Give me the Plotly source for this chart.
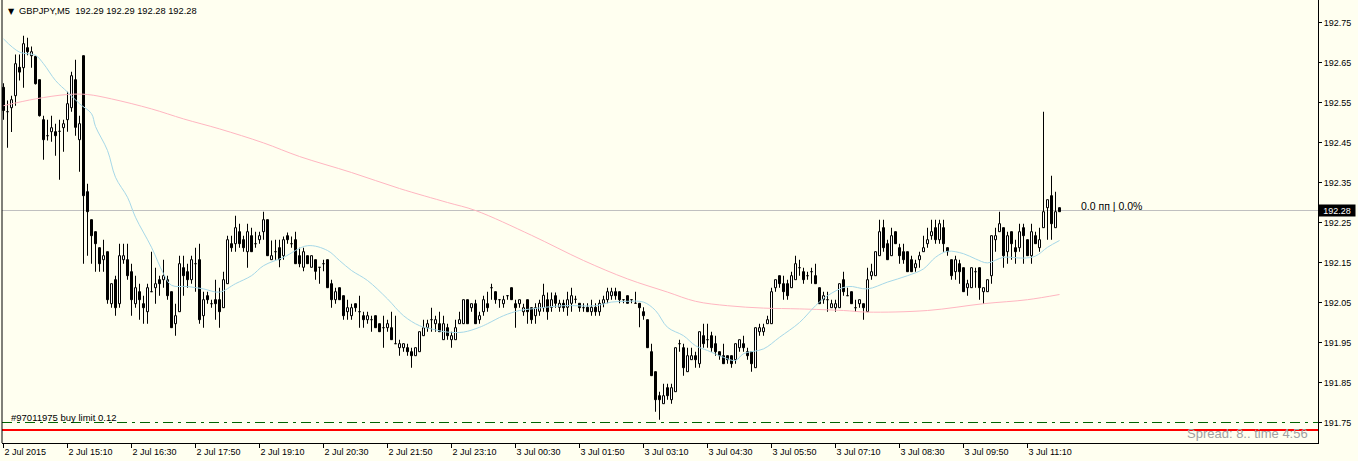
import plotly.graph_objects as go

# ---------------- data ----------------
opens = [192.588,192.527,192.537,192.567,192.638,192.637,192.687,192.667,192.665,192.607,
192.507,192.467,192.477,192.477,192.478,192.487,192.507,192.537,192.607,192.457,
192.667,192.327,192.257,192.227,192.187,192.157,192.177,192.047,192.107,192.047,
192.157,192.157,192.127,192.047,192.077,192.047,192.027,192.077,192.087,192.107,
192.107,192.107,192.077,191.997,192.027,192.137,192.127,192.107,192.147,192.157,
192.017,192.067,192.047,192.057,192.057,192.037,192.097,192.197,192.197,192.227,
192.207,192.177,192.217,192.197,192.207,192.227,192.257,192.157,192.177,192.187,
192.167,192.217,192.197,192.207,192.167,192.138,192.167,192.138,192.157,192.138,
192.147,192.157,192.097,192.057,192.087,192.067,192.027,192.017,192.047,192.027,
192.017,192.007,192.007,192.017,191.997,191.987,191.987,191.987,191.947,191.937,
191.937,191.937,191.927,191.917,191.927,191.967,191.987,192.007,191.997,191.997,
191.957,191.987,191.957,191.957,191.997,191.997,192.057,192.037,192.047,192.007,
192.027,192.047,192.087,192.077,192.057,192.047,192.067,192.087,192.047,192.047,
192.027,192.057,192.037,192.017,192.028,192.037,192.057,192.038,192.067,192.038,
192.048,192.038,192.048,192.058,192.048,192.037,192.038,192.027,192.038,192.027,
192.048,192.057,192.067,192.077,192.077,192.057,192.067,192.057,192.048,192.048,
192.027,192.007,191.927,191.877,191.817,191.797,191.837,191.807,191.827,191.947,
191.937,191.877,191.907,191.917,191.897,191.967,191.957,191.967,191.947,191.927,
191.917,191.917,191.917,191.907,191.937,191.947,191.927,191.927,191.887,191.977,
191.977,191.997,191.997,192.087,192.117,192.097,192.097,192.087,192.107,192.137,
192.127,192.117,192.127,192.117,192.087,192.057,192.057,192.037,192.037,192.037,
192.107,192.067,192.077,192.037,192.047,192.047,192.027,192.117,192.117,192.167,
192.237,192.197,192.167,192.227,192.187,192.177,192.177,192.157,192.137,192.157,
192.177,192.197,192.217,192.237,192.207,192.237,192.187,192.157,192.127,192.147,
192.137,192.087,192.087,192.127,192.137,192.077,192.077,192.117,192.207,192.227,
192.237,192.177,192.227,192.187,192.187,192.237,192.207,192.167,192.217,192.187,
192.237,192.287,192.317,192.237,192.287]
highs = [192.598,192.555,192.567,192.670,192.670,192.717,192.712,192.690,192.667,192.607,
192.517,192.507,192.517,192.497,192.507,192.507,192.577,192.627,192.657,192.517,
192.667,192.347,192.257,192.227,192.187,192.207,192.177,192.097,192.117,192.197,
192.197,192.197,192.147,192.117,192.097,192.067,192.097,192.177,192.137,192.117,
192.157,192.117,192.077,192.047,192.167,192.167,192.147,192.167,192.187,192.197,
192.077,192.077,192.057,192.107,192.087,192.127,192.217,192.217,192.267,192.247,
192.217,192.247,192.237,192.227,192.227,192.277,192.257,192.205,192.207,192.207,
192.215,192.225,192.215,192.227,192.187,192.187,192.167,192.167,192.157,192.138,
192.157,192.157,192.107,192.087,192.087,192.067,192.057,192.047,192.047,192.067,
192.027,192.027,192.017,192.017,191.997,192.017,192.007,192.027,192.017,191.957,
191.947,191.947,191.937,191.937,191.977,192.007,192.007,192.037,192.017,192.027,
192.017,191.997,191.977,192.007,192.027,192.057,192.057,192.047,192.057,192.027,
192.067,192.077,192.097,192.077,192.057,192.067,192.067,192.087,192.057,192.057,
192.047,192.057,192.037,192.048,192.057,192.097,192.075,192.075,192.075,192.057,
192.057,192.077,192.087,192.067,192.048,192.048,192.048,192.057,192.048,192.057,
192.067,192.087,192.087,192.087,192.077,192.057,192.067,192.057,192.077,192.048,
192.038,192.007,191.947,191.877,191.827,191.847,191.847,191.847,191.937,191.957,
191.947,191.937,191.937,191.927,191.977,191.997,191.997,191.977,191.967,191.927,
191.947,191.917,191.917,191.947,191.957,191.967,191.937,191.927,191.987,191.997,
191.997,192.017,192.087,192.107,192.117,192.117,192.107,192.127,192.167,192.157,
192.137,192.127,192.137,192.147,192.087,192.077,192.077,192.057,192.057,192.097,
192.127,192.087,192.077,192.057,192.057,192.047,192.137,192.147,192.177,192.257,
192.257,192.207,192.237,192.227,192.197,192.197,192.177,192.167,192.157,192.177,
192.217,192.237,192.257,192.257,192.257,192.257,192.187,192.157,192.167,192.157,
192.137,192.107,192.137,192.137,192.137,192.087,192.107,192.217,192.237,192.277,
192.237,192.227,192.227,192.207,192.247,192.247,192.207,192.247,192.227,192.237,
192.527,192.307,192.367,192.327,192.287]
lows = [192.507,192.437,192.476,192.542,192.605,192.587,192.668,192.637,192.595,192.515,
192.407,192.455,192.452,192.417,192.357,192.427,192.477,192.527,192.467,192.377,
192.147,192.167,192.147,192.127,192.127,192.127,192.047,192.037,192.017,192.037,
192.147,192.107,192.017,192.037,192.007,191.997,191.997,192.077,192.047,192.067,
192.087,192.057,191.987,191.967,192.027,192.067,192.087,192.097,192.077,191.997,
191.987,192.047,192.037,192.007,191.987,192.037,192.097,192.177,192.177,192.187,
192.177,192.137,192.177,192.187,192.197,192.207,192.167,192.157,192.157,192.138,
192.157,192.197,192.187,192.147,192.138,192.128,192.147,192.138,192.107,192.097,
192.128,192.087,192.037,192.047,192.057,192.007,192.007,192.007,192.027,191.987,
191.987,191.997,191.977,191.987,191.977,191.937,191.977,191.957,191.947,191.917,
191.927,191.917,191.887,191.917,191.927,191.967,191.977,191.977,191.977,191.977,
191.957,191.957,191.937,191.957,191.997,191.997,191.997,192.027,191.997,191.997,
192.017,192.027,192.057,192.047,192.037,192.037,192.057,192.057,191.987,192.037,
192.017,191.997,191.997,191.997,192.017,192.027,192.007,192.027,192.037,192.027,
192.027,192.017,192.027,192.048,192.027,192.027,192.027,192.017,192.017,192.017,
192.038,192.048,192.057,192.057,192.048,192.048,192.048,192.048,192.048,191.988,
192.007,191.937,191.867,191.777,191.757,191.797,191.807,191.797,191.827,191.927,
191.867,191.877,191.907,191.887,191.887,191.937,191.937,191.927,191.917,191.907,
191.897,191.897,191.887,191.897,191.927,191.927,191.907,191.877,191.887,191.967,
191.967,191.997,191.997,192.077,192.087,192.057,192.057,192.087,192.107,192.117,
192.097,192.107,192.097,192.097,192.047,192.047,192.027,192.037,192.027,192.037,
192.067,192.067,192.047,192.027,192.037,192.007,192.027,192.107,192.117,192.167,
192.177,192.157,192.167,192.197,192.147,192.147,192.127,192.127,192.127,192.137,
192.177,192.187,192.207,192.197,192.197,192.177,192.167,192.107,192.107,192.097,
192.077,192.067,192.087,192.087,192.057,192.047,192.077,192.097,192.177,192.227,
192.137,192.147,192.157,192.147,192.177,192.147,192.167,192.147,192.197,192.177,
192.237,192.207,192.207,192.237,192.277]
closes = [192.530,192.527,192.557,192.647,192.626,192.697,192.677,192.677,192.597,192.517,
192.457,192.467,192.487,192.467,192.478,192.497,192.547,192.617,192.488,192.497,
192.317,192.277,192.217,192.197,192.147,192.167,192.057,192.097,192.037,192.167,
192.167,192.117,192.057,192.087,192.057,192.037,192.087,192.077,192.097,192.097,
192.117,192.067,191.987,192.017,192.147,192.117,192.107,192.157,192.147,192.007,
192.057,192.057,192.047,192.047,192.027,192.107,192.207,192.187,192.237,192.197,
192.187,192.227,192.177,192.197,192.217,192.257,192.167,192.167,192.177,192.157,
192.207,192.207,192.197,192.147,192.147,192.177,192.147,192.167,192.128,192.138,
192.147,192.087,192.057,192.077,192.057,192.017,192.037,192.037,192.037,192.027,
192.007,192.017,192.007,191.987,191.977,191.987,191.997,191.957,191.947,191.947,
191.947,191.927,191.917,191.937,191.977,191.987,191.997,192.007,192.007,191.977,
191.997,191.967,191.967,191.987,192.007,192.057,191.997,192.047,191.997,192.017,
192.057,192.037,192.087,192.057,192.057,192.057,192.067,192.057,192.037,192.057,
192.037,192.027,192.007,192.037,192.048,192.068,192.027,192.057,192.048,192.048,
192.037,192.057,192.067,192.058,192.037,192.037,192.027,192.038,192.027,192.048,
192.057,192.077,192.077,192.067,192.057,192.057,192.048,192.057,192.048,192.037,
192.017,191.937,191.867,191.807,191.807,191.817,191.817,191.837,191.937,191.947,
191.887,191.917,191.917,191.907,191.977,191.947,191.957,191.937,191.927,191.917,
191.897,191.907,191.897,191.947,191.957,191.937,191.917,191.897,191.987,191.987,
191.987,192.007,192.077,192.107,192.097,192.077,192.067,192.117,192.147,192.137,
192.107,192.117,192.127,192.097,192.047,192.067,192.057,192.047,192.047,192.097,
192.077,192.067,192.047,192.037,192.057,192.037,192.107,192.127,192.177,192.227,
192.187,192.157,192.217,192.197,192.167,192.157,192.127,192.127,192.147,192.167,
192.187,192.207,192.227,192.207,192.247,192.197,192.177,192.117,192.157,192.127,
192.077,192.097,192.137,192.127,192.087,192.087,192.107,192.217,192.217,192.247,
192.167,192.217,192.197,192.177,192.227,192.217,192.167,192.227,192.197,192.207,
192.277,192.307,192.247,192.277,192.277]

# moving averages (bar index, price)
ma_fast_bars = [0,4,8,10,13,16,19,22,23,26,28,31,33,37,40,42,46,50,54,58,62,65,70,76,81,84,87,91,96,100,104,107,111,115,119,121,125,129,132,140,148,152,156,160,163,166,170,173,176,180,183,185,190,194,199,203,206,211,216,221,226,230,233,236,240,243,246,250,255,258,261,264]
ma_fast_vals = [192.709,192.676,192.668,192.647,192.605,192.576,192.547,192.522,192.49,192.43,192.363,192.313,192.263,192.188,192.122,192.093,192.09,192.084,192.076,192.097,192.117,192.142,192.163,192.192,192.18,192.155,192.13,192.105,192.059,192.017,191.992,191.984,191.976,191.976,191.988,191.997,192.017,192.03,192.034,192.042,192.042,192.051,192.053,192.051,192.03,191.988,191.967,191.942,191.93,191.913,191.905,191.922,191.934,191.963,192.0,192.042,192.067,192.09,192.084,192.101,192.117,192.134,192.163,192.178,192.172,192.159,192.149,192.163,192.161,192.166,192.188,192.205]
ma_slow_bars = [0,8,16,21,27,37,45,54,65,74,87,99,111,118,132,145,156,166,173,181,190,199,210,216,231,245,256,264]
ma_slow_vals = [192.542,192.559,192.57,192.57,192.559,192.534,192.509,192.484,192.449,192.415,192.375,192.335,192.30,192.28,192.218,192.155,192.109,192.076,192.053,192.042,192.036,192.034,192.03,192.026,192.03,192.047,192.057,192.07]

x_tick_bars = [0,16,32,48,64,80,96,112,128,144,160,176,192,208,224,240,256]
x_tick_text = ["2 Jul 2015","2 Jul 15:10","2 Jul 16:30","2 Jul 17:50","2 Jul 19:10","2 Jul 20:30",
               "2 Jul 21:50","2 Jul 23:10","3 Jul 00:30","3 Jul 01:50","3 Jul 03:10","3 Jul 04:30",
               "3 Jul 05:50","3 Jul 07:10","3 Jul 08:30","3 Jul 09:50","3 Jul 11:10"]
y_ticks = [191.75,191.85,191.95,192.05,192.15,192.25,192.35,192.45,192.55,192.65,192.75]
bid_price = 192.28
order_price = 191.75
red_level = 191.7315

BG = "#FFFFF0"
FONT = "Liberation Sans"

n = len(opens)
idx = list(range(n))
bull = [i for i in idx if closes[i] >= opens[i]]
bear = [i for i in idx if closes[i] < opens[i]]

def body_base(ids):
    return [min(opens[i], closes[i]) for i in ids]

def body_h(ids):
    return [max(abs(closes[i] - opens[i]), 0.00002) for i in ids]

fig = go.Figure()
# wicks
fig.add_trace(go.Bar(x=idx, base=lows, y=[highs[i] - lows[i] for i in idx], width=0.25,
                     marker=dict(color="black", line=dict(width=0)), hoverinfo="skip", showlegend=False))
# bodies
fig.add_trace(go.Bar(x=bull, base=body_base(bull), y=body_h(bull), width=0.5,
                     marker=dict(color="white", line=dict(color="black", width=1)),
                     hoverinfo="skip", showlegend=False))
fig.add_trace(go.Bar(x=bear, base=body_base(bear), y=body_h(bear), width=0.5,
                     marker=dict(color="black", line=dict(color="black", width=1)),
                     hoverinfo="skip", showlegend=False))
# moving averages
fig.add_trace(go.Scatter(x=ma_slow_bars, y=ma_slow_vals, mode="lines",
                         line=dict(color="#FFB6C1", width=1, shape="spline"), hoverinfo="skip", showlegend=False))
fig.add_trace(go.Scatter(x=ma_fast_bars, y=ma_fast_vals, mode="lines",
                         line=dict(color="#A6D8E8", width=1, shape="spline"), hoverinfo="skip", showlegend=False))

shapes = [
    dict(type="line", xref="paper", x0=0, x1=1, yref="y", y0=bid_price, y1=bid_price,
         line=dict(color="#C0C0C0", width=1), layer="below"),
    dict(type="line", xref="paper", x0=0, x1=1, yref="y", y0=order_price, y1=order_price,
         line=dict(color="#006400", width=1, dash="10px,5px,3px,5px")),
    dict(type="line", xref="paper", x0=0, x1=1, yref="y", y0=red_level, y1=red_level,
         line=dict(color="#FF0000", width=2)),
    dict(type="line", xref="paper", x0=0, x1=0, yref="paper", y0=0, y1=1,
         line=dict(color="black", width=1)),
]

annotations = [
    dict(xref="paper", yref="paper", x=0, y=1, xshift=4, yshift=-11, xanchor="left", yanchor="middle",
         text="▼", showarrow=False, font=dict(family="DejaVu Sans", size=8, color="black")),
    dict(xref="paper", yref="paper", x=0, y=1, xshift=15, yshift=-11, xanchor="left", yanchor="middle",
         text="GBPJPY,M5\u00a0\u00a0192.29 192.29 192.28 192.28", showarrow=False,
         font=dict(family=FONT, size=9.3, color="black")),
    dict(xref="x", yref="y", x=268.8, y=bid_price, yshift=5, xanchor="left", yanchor="middle",
         text="0.0 пп | 0.0%", showarrow=False, font=dict(family=FONT, size=10.5, color="black")),
    dict(xref="paper", yref="y", x=1, y=bid_price, xanchor="left", yanchor="middle",
         text="192.28", showarrow=False, bgcolor="black", width=34, height=9, borderpad=1,
         font=dict(family=FONT, size=9, color="white")),
    dict(xref="paper", yref="y", x=0, y=order_price, xshift=7, yshift=5, xanchor="left", yanchor="middle",
         text="#97011975 buy limit 0.12", showarrow=False, font=dict(family=FONT, size=9.5, color="black")),
    dict(xref="paper", yref="y", x=1, y=191.7225, xshift=-8, xanchor="right", yanchor="middle",
         text="Spread: 8.. time 4:56", showarrow=False, font=dict(family=FONT, size=13, color="#A0A0A0")),
]

fig.update_layout(
    width=1358, height=461,
    margin=dict(l=2, r=40, t=0, b=18),
    paper_bgcolor=BG, plot_bgcolor=BG,
    showlegend=False, hovermode=False, barmode="overlay",
    shapes=shapes, annotations=annotations,
    xaxis=dict(range=[-0.375, 328.625], tickvals=x_tick_bars, ticktext=x_tick_text,
               ticklabelposition="outside right", ticks="outside", ticklen=4, tickcolor="black",
               showline=True, linecolor="black", linewidth=1, showgrid=False, zeroline=False,
               fixedrange=True, tickfont=dict(family=FONT, size=9, color="black")),
    yaxis=dict(side="right", range=[191.69875, 192.80625], tickvals=y_ticks,
               ticktext=[f"{v:.2f}" for v in y_ticks], ticks="outside", ticklen=3, tickcolor="black",
               showline=True, linecolor="black", linewidth=1, showgrid=False, zeroline=False,
               fixedrange=True, tickfont=dict(family=FONT, size=9, color="black")),
)

fig.write_html("out.html")
